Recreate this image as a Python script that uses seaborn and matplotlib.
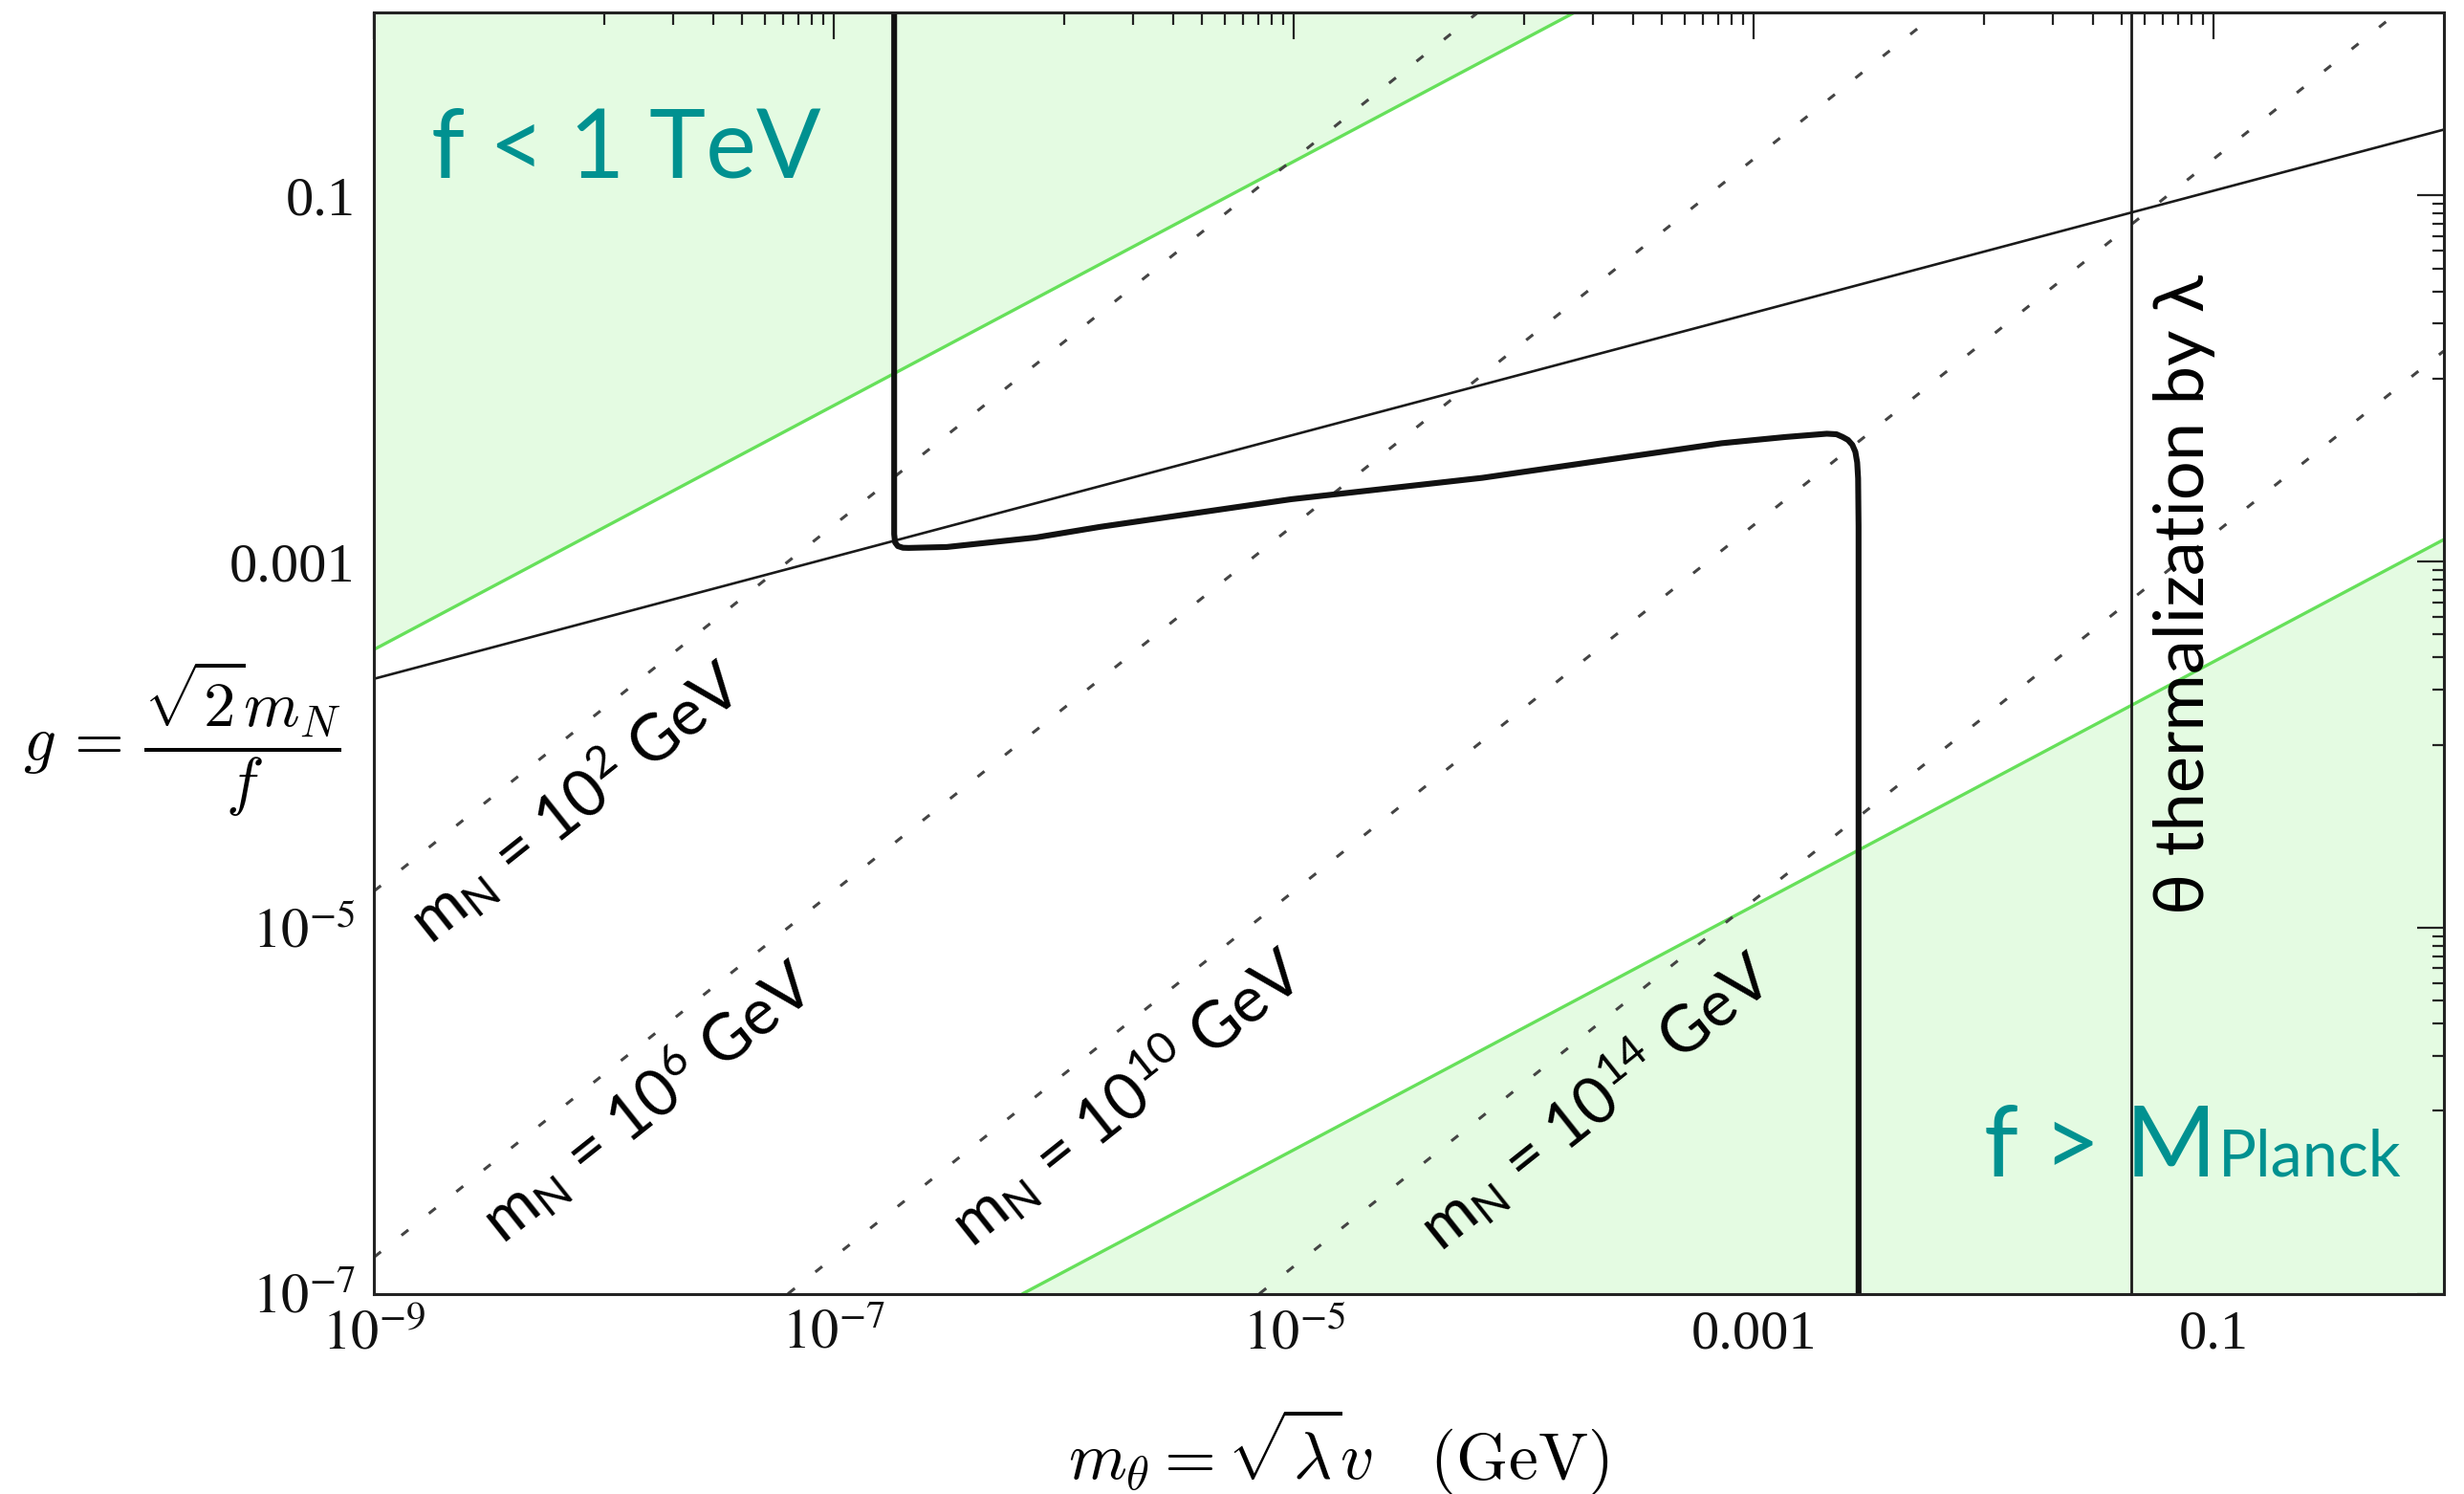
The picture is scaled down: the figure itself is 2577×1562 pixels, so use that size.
import numpy as np
import pandas as pd
import matplotlib
matplotlib.use("Agg")
import matplotlib.pyplot as plt
from matplotlib.ticker import FixedLocator, FixedFormatter, NullFormatter
import seaborn as sns

# ---------------- data (log10 values) ----------------
# upper green boundary  (f < 1 TeV)
upper_green_logx = [-9.0, 0.0]
upper_green_logy = [-3.48, 2.52]
# lower green boundary  (f > M_Planck)
lower_green_logx = [-6.18, 0.0]
lower_green_logy = [-7.0, -2.88]
# thin solid line
thin_logx = [-9.0, 0.0]
thin_logy = [-3.64, -0.64]
# vertical thermalization line
vert_logx = -1.36
# dotted m_N lines (endpoints)
mN_names = ["2", "6", "10", "14"]
mN_logx0 = [-9.0, -9.0, -7.2, -5.15]
mN_logy0 = [-4.8, -6.8, -7.0, -7.0]
mN_logx1 = [-4.2, -2.2, -0.2, 0.0]
mN_logy1 = [0.0, 0.0, 0.0, -1.85]
# label centres for m_N lines
mN_lab_logx = [-8.13, -7.81, -5.73, -3.69]
mN_lab_logy = [-4.31, -5.95, -5.92, -5.95]
# thick contour
thick_logx = [-6.738, -6.738, -6.734, -6.722, -6.700, -6.675, -6.509, -6.315, -6.122,
              -5.843, -5.012, -4.180, -3.140, -3.001, -2.862, -2.682, -2.640, -2.613,
              -2.590, -2.571, -2.558, -2.550, -2.546, -2.544, -2.544]
thick_logy = [0.0, -2.85, -2.895, -2.915, -2.924, -2.925, -2.920, -2.894, -2.868,
              -2.810, -2.659, -2.542, -2.353, -2.336, -2.319, -2.301, -2.304, -2.319,
              -2.335, -2.362, -2.400, -2.458, -2.545, -2.806, -7.0]

x_major = [-9, -7, -5, -3, -1]
x_major_labels = [r"$10^{-9}$", r"$10^{-7}$", r"$10^{-5}$", "0.001", "0.1"]
y_major = [-7, -5, -3, -1]
y_major_labels = [r"$10^{-7}$", r"$10^{-5}$", "0.001", "0.1"]

# ---------------- style ----------------
sns.set_theme(style="white")
plt.rcParams["font.family"] = ["Liberation Serif", "DejaVu Serif"]
plt.rcParams["mathtext.fontset"] = "stix"

GREEN_LINE = "#66E05A"
GREEN_FILL = "#E4FBE2"
TEAL = "#009190"
SANS = ["Lato", "DejaVu Sans"]

fig = plt.figure(figsize=(25.77, 15.62), dpi=100)
ax = fig.add_axes([0.1518, 0.1340, 0.8399, 0.8576])
ax.set_xscale("log")
ax.set_yscale("log")
ax.set_xlim(1e-9, 1)
ax.set_ylim(1e-7, 1)

p = lambda v: np.power(10.0, np.asarray(v, dtype=float))

# shaded regions
ax.fill_between(p(upper_green_logx), p(upper_green_logy), 100, color=GREEN_FILL, lw=0, zorder=0)
ax.fill_between(p(lower_green_logx), p(lower_green_logy), 1e-9, color=GREEN_FILL, lw=0, zorder=0)

# green boundaries
sns.lineplot(x=p(upper_green_logx), y=p(upper_green_logy), ax=ax, color=GREEN_LINE, lw=2.4, zorder=2)
sns.lineplot(x=p(lower_green_logx), y=p(lower_green_logy), ax=ax, color=GREEN_LINE, lw=2.4, zorder=2)

# dotted lines
for i in range(len(mN_names)):
    df = pd.DataFrame({"x": p([mN_logx0[i], mN_logx1[i]]), "y": p([mN_logy0[i], mN_logy1[i]])})
    sns.lineplot(data=df, x="x", y="y", ax=ax, color="#444444", lw=2.2,
                 linestyle=(0, (3.0, 9)), zorder=2)

# thin line and vertical line
sns.lineplot(x=p(thin_logx), y=p(thin_logy), ax=ax, color="#1a1a1a", lw=1.9, zorder=3)
ax.plot(p([vert_logx, vert_logx]), [1e-7, 1], color="#1a1a1a", lw=2.0, zorder=3)

# thick contour
dft = pd.DataFrame({"x": p(thick_logx), "y": p(thick_logy)})
sns.lineplot(data=dft, x="x", y="y", ax=ax, sort=False, estimator=None, color="#111111",
             lw=4.4, zorder=4, solid_joinstyle="round")

# ---------------- ticks ----------------
def minor_positions(majors):
    out = []
    for k in majors:
        out += [m * 10.0 ** (k - 1) for m in range(1, 10)]
    return out

ax.xaxis.set_major_locator(FixedLocator(p(x_major)))
ax.xaxis.set_major_formatter(FixedFormatter(x_major_labels))
ax.xaxis.set_minor_locator(FixedLocator(minor_positions(x_major)))
ax.xaxis.set_minor_formatter(NullFormatter())
ax.yaxis.set_major_locator(FixedLocator(p(y_major)))
ax.yaxis.set_major_formatter(FixedFormatter(y_major_labels))
ax.yaxis.set_minor_locator(FixedLocator(minor_positions(y_major)))
ax.yaxis.set_minor_formatter(NullFormatter())

ax.tick_params(which="both", direction="in", top=True, right=True, color="#222222",
               width=1.6, labelsize=42, labelcolor="#111111")
ax.tick_params(which="major", length=20)
ax.tick_params(which="minor", length=9)
ax.tick_params(axis="x", which="major", pad=12)
ax.tick_params(axis="y", which="major", pad=14)
for s in ax.spines.values():
    s.set_linewidth(2.2)
    s.set_color("#222222")
    s.set_zorder(6)

# axis labels
ax.set_xlabel(r"$m_\theta = \sqrt{\lambda} v\ \ \ (\mathrm{GeV})$", fontsize=50,
              math_fontfamily="cm", color="black", va="center")
ax.xaxis.set_label_coords(0.466, -0.123)
ax.set_ylabel(r"$g\, =\, \dfrac{\sqrt{2}m_N}{f}$", fontsize=48, rotation=0,
              math_fontfamily="cm", color="black", va="center", ha="center")
ax.yaxis.set_label_coords(-0.093, 0.433)

# ---------------- annotations ----------------
ax.text(p(-8.75), p(-0.90), "f < 1 TeV", color=TEAL, fontsize=72, family=SANS,
        ha="left", va="baseline", zorder=5)
t1 = ax.text(p(-2.0), p(-6.357), "f > M", color=TEAL, fontsize=74, family=SANS,
             ha="left", va="baseline", zorder=5)
fig.canvas.draw()
bb = t1.get_window_extent()
xd = ax.transData.inverted().transform((bb.x1 + 2, bb.y0))[0]
ax.text(xd, p(-6.357), "Planck", color=TEAL, fontsize=48, family=SANS,
        ha="left", va="baseline", zorder=5)

ax.text(p(-1.126), p(-3.18), "θ thermalization by λ", rotation=90, fontsize=52,
        family=SANS, color="black", ha="center", va="center", zorder=5)

# angle of the m_N lines on screen
a0 = ax.transData.transform((p(-8.0), p(-4.0)))
a1 = ax.transData.transform((p(-6.0), p(-2.0)))
ang = np.degrees(np.arctan2(a1[1] - a0[1], a1[0] - a0[0]))
for i, nm in enumerate(mN_names):
    ax.text(p(mN_lab_logx[i]), p(mN_lab_logy[i]),
            r"m$_\mathregular{N}$ = 10$^\mathregular{" + nm + r"}$ GeV",
            rotation=ang, rotation_mode="anchor", fontsize=48, family=SANS,
            color="black", ha="center", va="center", zorder=5)

fig.savefig("out.png", dpi=100, facecolor="white")
